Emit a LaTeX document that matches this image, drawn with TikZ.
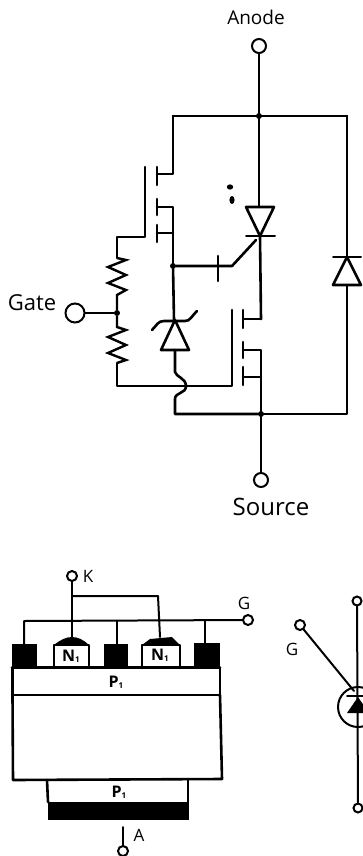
\documentclass[tikz,border=0pt]{standalone}
\usepackage{fontspec}
\setmainfont{Open Sans}
\tikzset{
  wire/.style={line width=2.6pt,line cap=round,line join=round},
  thin wire/.style={line width=2pt,line cap=round,line join=round},
  term/.style={circle,draw,line width=2pt,fill=white,inner sep=0pt,minimum size=#1},
  junction/.style={circle,fill=black,inner sep=0pt,minimum size=6pt},
  lbl/.style={font=\fontsize{#1}{#1}\selectfont,inner sep=0pt},
  sub/.style={font=\fontsize{16}{16}\selectfont\bfseries,inner sep=0pt},
  zig/.style={line width=2.4pt,line join=miter}
}
\newcommand{\lay}[1]{#1\raisebox{-1pt}{\fontsize{8}{8}\selectfont 1}}
\begin{document}
\begin{tikzpicture}[x=1pt,y=-1pt]
\useasboundingbox (0,0) rectangle (363,856);
% terminals upper
\node[term=14pt] (anode) at (259,46) {};
\node[term=14pt] (source) at (261,480) {};
\node[term=19pt] (gate) at (75,313) {};
\node[lbl=19] at (256,17) {Anode};
\node[lbl=24] at (271,507) {Source};
\node[lbl=22] at (32,303) {Gate};
% junctions
\node[junction] (jtop) at (259,116) {};
\node[junction] (jmid) at (173,266) {};
\node[junction] (jgate) at (117,313) {};
\node[junction] (jbot) at (261,414) {};
\coordinate (tl) at (173,116);
\coordinate (tr) at (347,116);
\coordinate (br) at (347,414);
% main
\draw[wire] (anode) -- (jtop) -- (259,207);
\draw[wire] (tl) -- (tr);
\draw[wire] (tr) -- (347,257);
\draw[wire] (347,285) -- (br) -- (jbot);
% thyristor
\draw[wire] (246,207) -- (274,207) -- (260,236) -- cycle;
\draw[thin wire] (246,236) -- (275,236);
\draw[wire] (260,236) -- (261,319);
\draw[wire] (jmid) -- (232,266) -- (256,240);
\draw[wire] (218,256) -- (218,281);
% right diode
\draw[wire] (333,285) -- (361,285) -- (347,257) -- cycle;
\draw[thin wire] (333,257) -- (361,257);
% upper mosfet
\draw[wire] (145,167) -- (145,237) -- (117,237) -- (117,258);
\draw[wire] (157,167) -- (157,185);
\draw[wire] (157,199) -- (157,215);
\draw[wire] (157,225) -- (157,242);
\draw[wire] (157,174) -- (173,174) -- (tl);
\draw[wire] (157,207) -- (173,207) -- (jmid);
\draw[wire] (157,233) -- (173,233);
% lower mosfet
\draw[wire] (232,310) -- (232,386) -- (117,386) -- (117,363);
\draw[wire] (243,310) -- (243,328);
\draw[wire] (243,342) -- (243,358);
\draw[wire] (243,367) -- (243,385);
\draw[wire] (243,319) -- (261,319);
\draw[wire] (243,350) -- (261,350) -- (jbot);
\draw[wire] (243,377) -- (261,377);
\draw[wire] (jbot) -- (source);
% resistors
\draw[zig] (117,258) -- (126,260) -- (108,267) -- (126,275) -- (108,283) -- (126,290) -- (117,295) -- (jgate);
\draw[zig] (jgate) -- (117,327) -- (126,330) -- (108,337) -- (126,345) -- (108,353) -- (126,360) -- (117,363);
\draw[wire] (gate) -- (jgate);
% zener
\draw[wire] (jmid) -- (174,320);
\draw[wire] (161,350) -- (189,350) -- (175,320) -- cycle;
\draw[wire] (152,330) .. controls (157,325) and (158,321) .. (164,321) -- (185,321) .. controls (190,321) and (191,317) .. (197,311);
\draw[wire] (175,350) -- (175,372) .. controls (176,377) and (186,378) .. (186,386) .. controls (186,394) and (175,392) .. (175,399) -- (175,414) -- (jbot);
% dots
\fill (230,187) ellipse (3.2pt and 2.6pt);
\fill (232,200) ellipse (2.6pt and 4pt);
% lower-left structure
\draw[wire] (12.5,668) rectangle (220,695);
\draw[wire] (12.5,695) -- (13,780) -- (222,779) -- (220,695);
\draw[wire] (47,780) -- (48,802);
\draw[wire] (188,780) -- (188,802);
\fill (48,802) rectangle (189,820);
\fill (12,644) rectangle (37,668);
\fill (104,644) rectangle (128,668);
\fill (194,643) rectangle (220,668);
\draw[wire] (12,667.5) -- (220,667.5);
\draw[wire] (54,668) -- (54,645) -- (89,645) -- (89,668);
\draw[wire] (142,668) -- (142,645) -- (180,645) -- (180,668);
\fill (54,645) .. controls (60,640) and (66,637) .. (72,637) .. controls (78,637) and (84,640) .. (89,645) -- cycle;
\fill (142,645) -- (150,639) -- (172,637) -- (180,645) -- cycle;
\node[sub] at (71,656) {\lay{N}};
\node[sub] at (160,655) {\lay{N}};
\node[sub] at (116,682) {\lay{P}};
\node[sub] at (119,792) {\lay{P}};
% lower-left terminals
\node[term=10pt] (kt) at (72,576) {};
\node[term=10pt] (gt) at (248,620) {};
\node[term=10pt] (at) at (123,851) {};
\node[lbl=17] at (88,576) {K};
\node[lbl=17] at (244,603) {G};
\node[lbl=17] at (139,835) {A};
\coordinate (at2) at (123,827);
\draw[thin wire] (kt) -- (72,637);
\draw[thin wire] (72,596) -- (158,596) -- (160,637);
\draw[thin wire] (24,644) -- (24,621) -- (gt);
\draw[thin wire] (117,621) -- (117,644);
\draw[thin wire] (205,621) -- (205,643);
\draw[thin wire] (at2) -- (at);
% right symbol
\node[term=9pt] (rt) at (357,601) {};
\node[term=9pt] (rb) at (358,808) {};
\node[term=10pt] (rg) at (300,625) {};
\node[lbl=17] at (292,649) {G};
\draw[thin wire] (358,707) circle (20pt);
\draw[thin wire] (rt) -- (rb);
\draw[thin wire] (rg) -- (354,691);
\draw[thin wire] (347,696) -- (363,696);
\fill (358,697) -- (347,713) -- (369,713) -- cycle;
\end{tikzpicture}
\end{document}
